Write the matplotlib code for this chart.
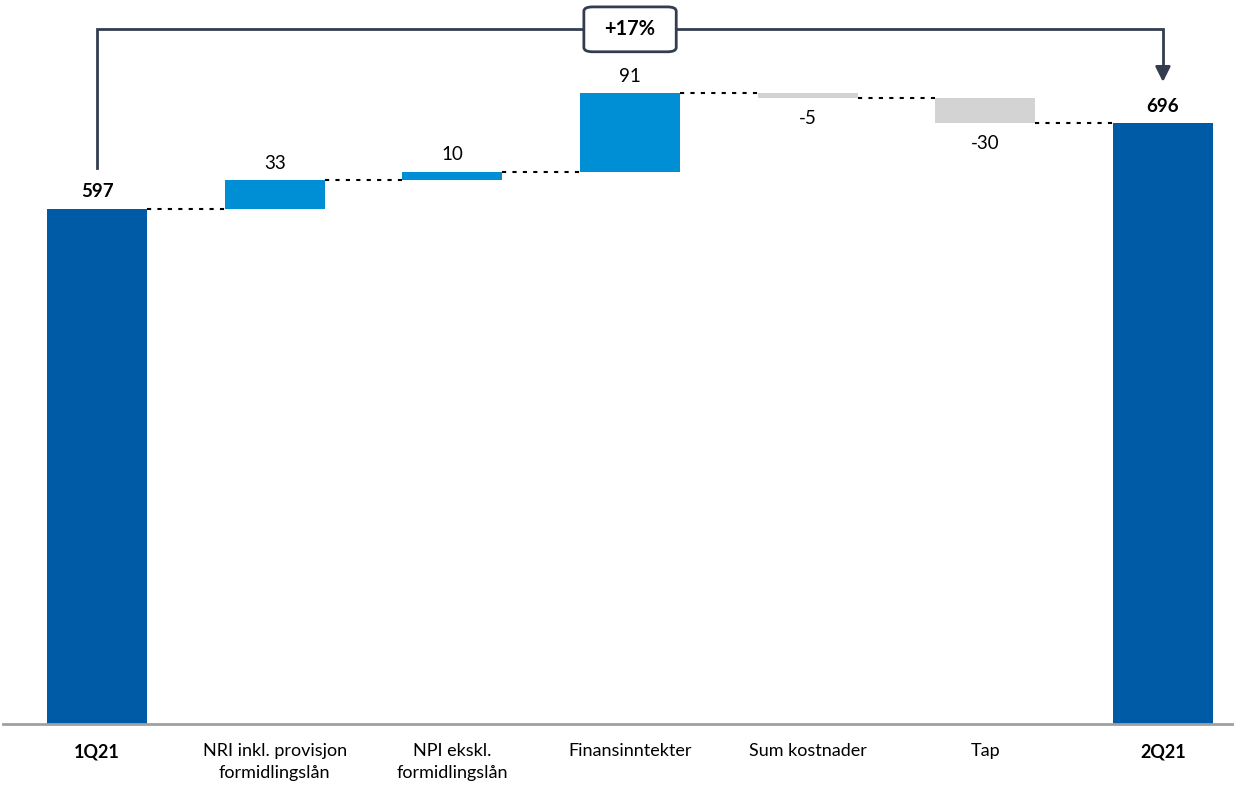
import matplotlib.pyplot as plt
from matplotlib.patches import FancyBboxPatch
import numpy as np

plt.rcParams['font.family'] = ['Lato', 'DejaVu Sans']

categories = ['1Q21', 'NRI inkl. provisjon\nformidlingslån', 'NPI ekskl.\nformidlingslån',
              'Finansinntekter', 'Sum kostnader', 'Tap', '2Q21']
start_total = 597
changes = [33, 10, 91, -5, -30]
end_total = 696
growth_label = '+17%'

c_total = '#005BA6'
c_up = '#008FD5'
c_down = '#D3D3D3'
c_line = '#333D4F'

fig = plt.figure(figsize=(12.34, 7.87), dpi=100)
ax = fig.add_axes([3 / 1234, 63 / 787, 1 - 3 / 1234, 724 / 787])
ax.set_xlim(-0.53, 6.4)
ax.set_ylim(0, 839)

w = 0.563
x = np.arange(len(categories))

# totals
ax.bar(x[0], start_total, w, color=c_total, zorder=2)
ax.bar(x[-1], end_total, w, color=c_total, zorder=2)
ax.text(x[0], start_total + 10, str(start_total), ha='center', va='bottom',
        fontsize=13.5, fontweight='bold')
ax.text(x[-1], end_total + 10, str(end_total), ha='center', va='bottom',
        fontsize=13.5, fontweight='bold')

# steps
running = start_total
levels = [running]
for i, ch in enumerate(changes, start=1):
    bottom = running if ch >= 0 else running + ch
    ax.bar(x[i], abs(ch), w, bottom=bottom, color=c_up if ch >= 0 else c_down, zorder=2)
    if ch >= 0:
        ax.text(x[i], running + ch + 10, str(ch), ha='center', va='bottom', fontsize=13.5)
    else:
        ax.text(x[i], running + ch - 14, str(ch), ha='center', va='top', fontsize=13.5)
    running += ch
    levels.append(running)

# dotted connectors
for i, lev in enumerate(levels):
    ax.plot([x[i] + w / 2, x[i + 1] - w / 2], [lev, lev], color='black',
            lw=1.5, ls=(0, (2, 3)), zorder=1)

# bracket with arrow
top = 805
ax.plot([x[0], x[0], x[-1], x[-1]], [644, top, top, 760], color=c_line, lw=2,
        solid_joinstyle='miter', zorder=3)
ax.annotate('', xy=(x[-1], 744), xytext=(x[-1], 762),
            arrowprops=dict(arrowstyle='-|>,head_width=0.45,head_length=0.9',
                            color=c_line, lw=2, shrinkA=0, shrinkB=0))
bx, bw, bh = x[3], 0.52, 52
box = FancyBboxPatch((bx - bw / 2, top - bh / 2), bw, bh,
                     boxstyle='round,pad=0,rounding_size=0.05', mutation_aspect=100,
                     fc='white', ec=c_line, lw=2, zorder=4)
ax.add_patch(box)
ax.text(bx, top, growth_label, ha='center', va='center', fontsize=14.5,
        fontweight='bold', zorder=5)

# axis styling
for s in ['top', 'right', 'left']:
    ax.spines[s].set_visible(False)
ax.spines['bottom'].set_color('#A0A0A0')
ax.spines['bottom'].set_linewidth(2)
ax.set_yticks([])
ax.set_xticks(x)
ax.set_xticklabels(categories, fontsize=13, linespacing=1.45)
ax.tick_params(axis='x', length=0, pad=14)
for lbl in (ax.get_xticklabels()[0], ax.get_xticklabels()[-1]):
    lbl.set_fontweight('bold')

fig.savefig('out.png', dpi=100)
